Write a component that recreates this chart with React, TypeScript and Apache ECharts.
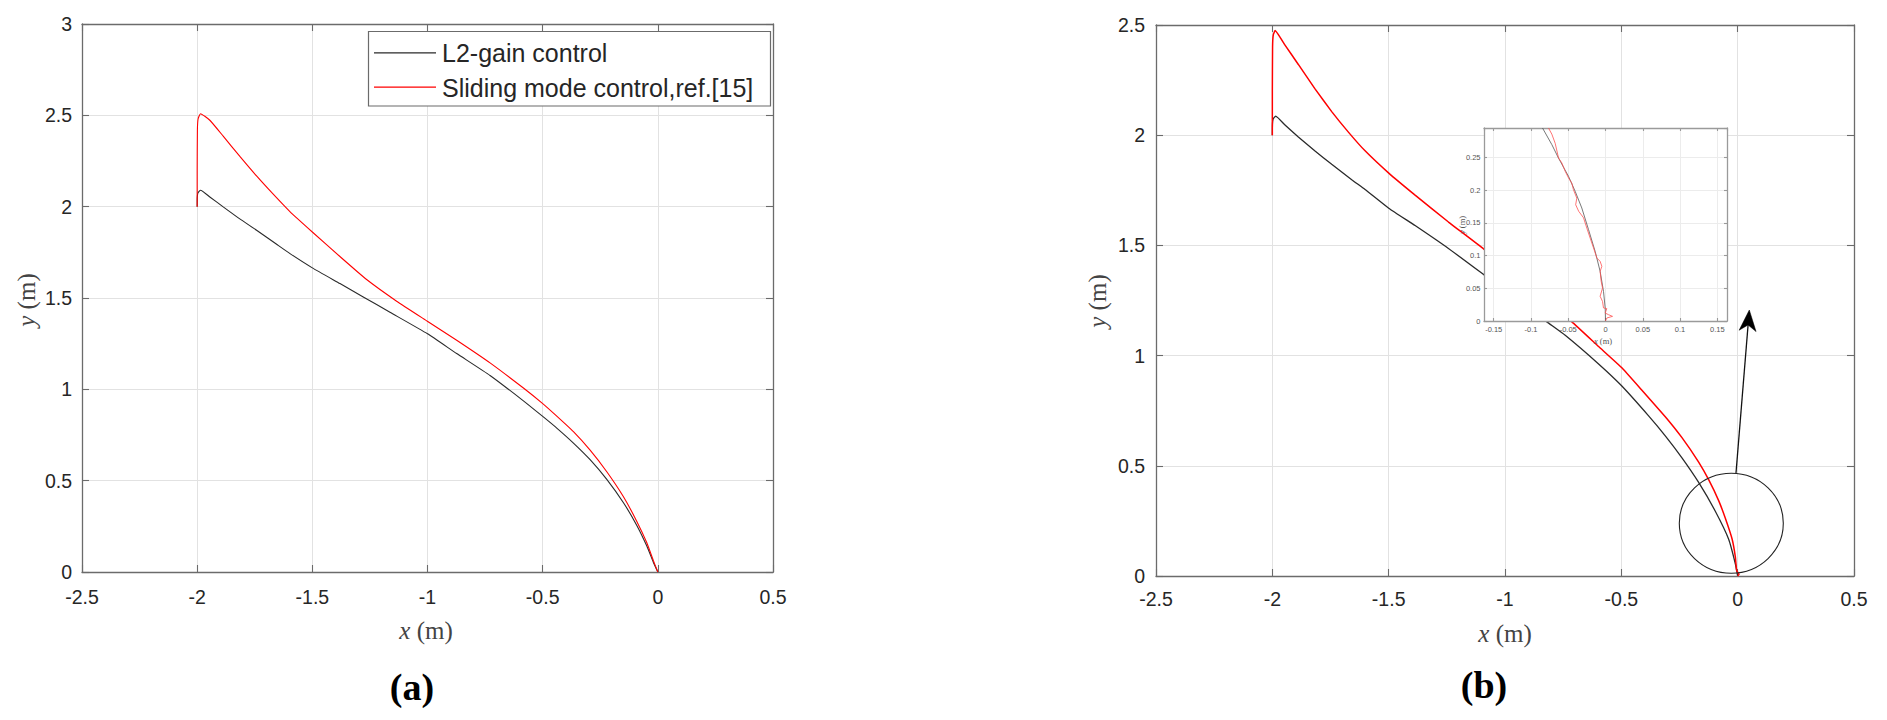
import React, { useEffect, useRef } from "react";
import * as echarts from "echarts";

// ---------- names ----------
const NAME_L2 = "L2-gain control";
const NAME_SMC = "Sliding mode control,ref.[15]";
const PANEL_LABELS = ["(a)", "(b)"];

// ---------- panel (a) ----------
const aL2X = [-2, -1.9995, -1.997, -1.9855, -1.945, -1.887, -1.815, -1.742, -1.655, -1.597, -1.5, -1.38, -1.279, -1.163, -1.0, -0.8733, -0.7285, -0.5836, -0.5011, -0.4388, -0.3664, -0.294, -0.2216, -0.1492, -0.0912, -0.0478, -0.0188, 0];
const aL2Y = [2.0, 2.05, 2.075, 2.09, 2.053, 1.999, 1.933, 1.871, 1.794, 1.743, 1.665, 1.579, 1.506, 1.422, 1.304, 1.196, 1.076, 0.937, 0.853, 0.788, 0.706, 0.615, 0.507, 0.379, 0.255, 0.142, 0.051, 0];

const aSmcX = [-2, -2.0, -1.999, -1.996, -1.9855, -1.945, -1.887, -1.8146, -1.7422, -1.6698, -1.5974, -1.4989, -1.3802, -1.2643, -1.134, -1.0007, -0.8733, -0.7285, -0.5836, -0.501, -0.4388, -0.3664, -0.294, -0.2216, -0.1492, -0.0912, -0.0478, -0.0188, 0];
const aSmcY = [2.0, 2.2, 2.42, 2.48, 2.509, 2.473, 2.386, 2.275, 2.168, 2.068, 1.973, 1.86, 1.727, 1.601, 1.4825, 1.373, 1.269, 1.145, 1.007, 0.923, 0.853, 0.768, 0.667, 0.549, 0.412, 0.277, 0.16, 0.06, 0];

// ---------- panel (b) ----------
const bL2X = [-2, -1.9995, -1.997, -1.9857, -1.9455, -1.8882, -1.8165, -1.7448, -1.6588, -1.6014, -1.4996, -1.3864, -1.243, -1.091, -0.8201, -0.7412, -0.5978, -0.4989, -0.3828, -0.3111, -0.2394, -0.1677, -0.0961, -0.0387, -0.01, 0];
const bL2Y = [2.0, 2.05, 2.072, 2.087, 2.046, 1.992, 1.928, 1.868, 1.798, 1.754, 1.669, 1.59, 1.486, 1.367, 1.153, 1.092, 0.962, 0.863, 0.7266, 0.636, 0.536, 0.4245, 0.294, 0.167, 0.0556, 0];

const bSmcX = [-2, -2.0, -1.999, -1.996, -1.988, -1.9455, -1.8882, -1.8165, -1.7448, -1.6731, -1.6014, -1.4996, -1.3864, -1.243, -1.091, -0.7125, -0.5978, -0.4989, -0.4115, -0.3111, -0.2394, -0.1677, -0.1247, -0.0817, -0.053, -0.0237, -0.01, -0.0043, 0.006, 0];
const bSmcY = [2.0, 2.2, 2.4, 2.455, 2.475, 2.409, 2.321, 2.21, 2.107, 2.014, 1.929, 1.828, 1.728, 1.606, 1.483, 1.153, 1.041, 0.946, 0.843, 0.723, 0.628, 0.517, 0.437, 0.342, 0.262, 0.167, 0.087, 0.024, 0.008, 0];

// ---------- inset of (b) ----------
const insetL2X = [-0.0845, -0.072, -0.0631, -0.0496, -0.0407, -0.0318, -0.0228, -0.0139, -0.0072, -0.0027, -0.0004, 0];
const insetL2Y = [0.2954, 0.27, 0.2495, 0.2214, 0.1985, 0.173, 0.14, 0.1066, 0.076, 0.0454, 0.0199, 0];

const insetSmcX = [-0.0765, -0.072, -0.0675, -0.063, -0.0586, -0.054, -0.0496, -0.0452, -0.043, -0.0385, -0.04, -0.036, -0.0295, -0.025, -0.0206, -0.0161, -0.0116, -0.0072, -0.0049, -0.0072, -0.0058, -0.004, -0.0072, -0.004, -0.0027, 0.0018, -0.0004, 0.004, 0.0094, 0.0018, 0];
const insetSmcY = [0.2954, 0.286, 0.272, 0.2495, 0.242, 0.229, 0.219, 0.211, 0.201, 0.188, 0.178, 0.168, 0.158, 0.142, 0.127, 0.112, 0.0964, 0.0913, 0.0837, 0.076, 0.0607, 0.0505, 0.0378, 0.03, 0.02, 0.0189, 0.0122, 0.0097, 0.0071, 0.0046, 0];

// ---------- axis ranges ----------
const X_MIN = -2.5, X_MAX = 0.5, X_STEP = 0.5;
const A_Y_MAX = 3, B_Y_MAX = 2.5, Y_STEP = 0.5;
const INSET_X_MIN = -0.163, INSET_X_MAX = 0.163;
const INSET_Y_MAX = 0.2954, INSET_Y_STEP = 0.05;

const SANS = "'Liberation Sans', Arial, Helvetica, sans-serif";
const SERIF = "'Liberation Serif', 'Times New Roman', serif";
const FRAME = "#6b6b6b";
const GRIDC = "#e2e2e2";
const BLACK = "#2a2a2a";
const RED = "#ff0000";

const zip = (xs: number[], ys: number[]) => xs.map((x, i) => [x, ys[i]]);

function axis(o: any) {
  const { grid, pos, min, max, interval, labels, split, margin, tickLen, fontSize, color, frame, z, showMinLabel, showMaxLabel } = o;
  return {
    type: "value",
    gridIndex: grid,
    position: pos,
    min,
    max,
    interval,
    z: z ?? 0,
    axisLine: { show: true, onZero: false, lineStyle: { color: frame || FRAME, width: 1.3 } },
    axisTick: { show: true, inside: true, length: tickLen ?? 7, lineStyle: { color: frame || FRAME, width: 1.1 } },
    axisLabel: {
      show: !!labels,
      margin: margin ?? 10,
      color: color || "#262626",
      fontSize: fontSize ?? 19.5,
      fontFamily: SANS,
      showMinLabel,
      showMaxLabel,
    },
    splitLine: { show: !!split, lineStyle: { color: split || GRIDC, width: 1 } },
  };
}

export default function App() {
  const ref = useRef<HTMLDivElement>(null);
  useEffect(() => {
    if (!ref.current) return;
    const chart = echarts.init(ref.current, undefined, { renderer: "svg" });

    // arrow geometry (pixel annotation)
    const tip = [1749.3, 310];
    const tail = [1736, 473];
    const dx = tip[0] - tail[0], dy = tip[1] - tail[1];
    const len = Math.hypot(dx, dy);
    const ux = dx / len, uy = dy / len;
    const px = -uy, py = ux;
    const hl = 21, hw = 8.5, notch = 15;
    const bx = tip[0] - hl * ux, by = tip[1] - hl * uy;
    const nx = tip[0] - notch * ux, ny = tip[1] - notch * uy;

    const lineSeries = (name: string, data: number[][], xi: number, color: string, width: number, z = 2, smooth: number | boolean = false) => ({
      type: "line",
      name,
      data,
      xAxisIndex: xi,
      yAxisIndex: xi,
      symbol: "none",
      showSymbol: false,
      clip: true,
      smooth,
      z,
      lineStyle: { color, width },
      emphasis: { disabled: true },
      animation: false,
    });

    const titleText = (x: number, y: number, size: number, color: string, rotate = false) => ({
      type: "text",
      z: 9,
      silent: true,
      x,
      y,
      rotation: rotate ? Math.PI / 2 : 0,
      style: {
        text: rotate ? "{i|y} (m)" : "{i|x} (m)",
        fill: color,
        fontSize: size,
        fontFamily: SERIF,
        align: "center",
        verticalAlign: "middle",
        rich: { i: { fontStyle: "italic", fontSize: size, fontFamily: SERIF, fill: color } },
      },
    });

    const option: any = {
      animation: false,
      backgroundColor: "#ffffff",
      grid: [
        { left: 82, top: 24, width: 691, height: 548 },
        { left: 1156, top: 25, width: 698, height: 551 },
        { left: 1484, top: 128, width: 243, height: 193 },
      ],
      xAxis: [
        axis({ grid: 0, pos: "bottom", min: X_MIN, max: X_MAX, interval: X_STEP, labels: true, split: GRIDC, margin: 15 }),
        axis({ grid: 0, pos: "top", min: X_MIN, max: X_MAX, interval: X_STEP }),
        axis({ grid: 1, pos: "bottom", min: X_MIN, max: X_MAX, interval: X_STEP, labels: true, split: GRIDC, margin: 13 }),
        axis({ grid: 1, pos: "top", min: X_MIN, max: X_MAX, interval: X_STEP }),
        axis({ grid: 2, pos: "bottom", min: INSET_X_MIN, max: INSET_X_MAX, labels: true, split: "#ececec", margin: 4, tickLen: 3, fontSize: 7.5, color: "#555", frame: "#9a9a9a", z: 6, showMinLabel: false, showMaxLabel: false }),
        axis({ grid: 2, pos: "top", min: INSET_X_MIN, max: INSET_X_MAX, tickLen: 3, frame: "#9a9a9a", z: 6 }),
      ],
      yAxis: [
        axis({ grid: 0, pos: "left", min: 0, max: A_Y_MAX, interval: Y_STEP, labels: true, split: GRIDC, margin: 10 }),
        axis({ grid: 0, pos: "right", min: 0, max: A_Y_MAX, interval: Y_STEP }),
        axis({ grid: 1, pos: "left", min: 0, max: B_Y_MAX, interval: Y_STEP, labels: true, split: GRIDC, margin: 11 }),
        axis({ grid: 1, pos: "right", min: 0, max: B_Y_MAX, interval: Y_STEP }),
        axis({ grid: 2, pos: "left", min: 0, max: INSET_Y_MAX, interval: INSET_Y_STEP, labels: true, split: "#ececec", margin: 3.5, tickLen: 3, fontSize: 7.5, color: "#555", frame: "#9a9a9a", z: 6, showMaxLabel: false }),
        axis({ grid: 2, pos: "right", min: 0, max: INSET_Y_MAX, interval: INSET_Y_STEP, tickLen: 3, frame: "#9a9a9a", z: 6 }),
      ],
      series: [
        lineSeries(NAME_L2, zip(aL2X, aL2Y), 0, BLACK, 1.1, 2, 0.15),
        lineSeries(NAME_SMC, zip(aSmcX, aSmcY), 0, RED, 1.1, 2, 0.15),
        lineSeries(NAME_L2, zip(bL2X, bL2Y), 2, BLACK, 1.3, 2, 0.15),
        lineSeries(NAME_SMC, zip(bSmcX, bSmcY), 2, RED, 1.5, 2, 0.1),
        lineSeries(NAME_L2, zip(insetL2X, insetL2Y), 4, "#555555", 0.8, 7),
        lineSeries(NAME_SMC, zip(insetSmcX, insetSmcY), 4, "#ff5050", 0.8, 7),
      ],
      graphic: [
        // inset background
        { type: "rect", z: 5, silent: true, shape: { x: 1484, y: 128, width: 243, height: 193 }, style: { fill: "#ffffff" } },
        // legend
        { type: "rect", z: 8, silent: true, shape: { x: 368.5, y: 31.5, width: 402, height: 74.5 }, style: { fill: "#ffffff", stroke: FRAME, lineWidth: 1.2 } },
        { type: "line", z: 9, silent: true, shape: { x1: 374, y1: 52.8, x2: 436, y2: 52.8 }, style: { stroke: BLACK, lineWidth: 1.2 } },
        { type: "line", z: 9, silent: true, shape: { x1: 374, y1: 87.2, x2: 436, y2: 87.2 }, style: { stroke: RED, lineWidth: 1.2 } },
        { type: "text", z: 9, silent: true, x: 442, y: 53, style: { text: NAME_L2, fill: "#262626", fontSize: 25, fontFamily: SANS, verticalAlign: "middle", align: "left" } },
        { type: "text", z: 9, silent: true, x: 442, y: 87.5, style: { text: NAME_SMC, fill: "#262626", fontSize: 25, fontFamily: SANS, verticalAlign: "middle", align: "left" } },
        // axis titles
        titleText(426, 630, 25, "#444"),
        titleText(26, 300, 25, "#444", true),
        titleText(1505, 633, 25, "#444"),
        titleText(1097, 301, 25, "#444", true),
        titleText(1603, 341, 8.5, "#555"),
        titleText(1462, 225, 8.5, "#555", true),
        // panel labels
        { type: "text", z: 9, silent: true, x: 412, y: 687, style: { text: PANEL_LABELS[0], fill: "#000", fontSize: 38, fontWeight: "bold", fontFamily: SERIF, align: "center", verticalAlign: "middle" } },
        { type: "text", z: 9, silent: true, x: 1484, y: 685, style: { text: PANEL_LABELS[1], fill: "#000", fontSize: 38, fontWeight: "bold", fontFamily: SERIF, align: "center", verticalAlign: "middle" } },
        // zoom ellipse and arrow
        { type: "ellipse", z: 10, silent: true, shape: { cx: 1731.3, cy: 523.2, rx: 52, ry: 50 }, style: { fill: "none", stroke: "#222", lineWidth: 1.1 } },
        { type: "line", z: 10, silent: true, shape: { x1: tail[0], y1: tail[1], x2: nx, y2: ny }, style: { stroke: "#111", lineWidth: 1.3 } },
        { type: "polygon", z: 10, silent: true, shape: { points: [tip, [bx + hw * px, by + hw * py], [nx, ny], [bx - hw * px, by - hw * py]] }, style: { fill: "#000", stroke: "#000", lineWidth: 0.5 } },
      ],
    };
    chart.setOption(option);
    return () => chart.dispose();
  }, []);
  return <div ref={ref} style={{ position: "fixed", left: 0, top: 0, width: 1887, height: 720 }} />;
}
